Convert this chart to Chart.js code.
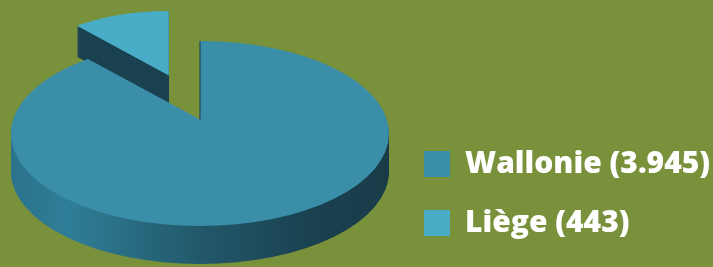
<!DOCTYPE html>
<html>
<head>
<meta charset="utf-8">
<script src="https://cdn.jsdelivr.net/npm/chart.js@4.4.1/dist/chart.umd.min.js"></script>
<style>
  html, body { margin: 0; padding: 0; background: #7a913c; }
  #wrap { width: 713px; height: 267px; position: relative; }
</style>
</head>
<body>
<div id="wrap"><canvas id="pieChart"></canvas></div>
<script>
const regionLabels = ['Wallonie (3.945)', 'Liège (443)'];
const regionCounts = [3945, 443];
const topColors = ['#3a8ea8', '#4aadc7'];
const explodeBy = [0, 100];

// fake 3D: tilt each arc into an ellipse and stack its side below it
const pie3d = {
  id: 'pie3d',
  beforeDatasetsDraw(chart, args, opts) {
    const ctx = chart.ctx;
    const arcs = chart.getDatasetMeta(0).data;
    const slices = arcs.map((arc, i) => {
      const mid = (arc.startAngle + arc.endAngle) / 2;
      const d = explodeBy[i];
      const s = d ? opts.farScale : 1;
      return {
        cx: arc.x + Math.cos(mid) * d,
        cy: arc.y + Math.sin(mid) * d * opts.tilt,
        rx: arc.outerRadius * s,
        ry: arc.outerRadius * s * opts.tilt,
        lift: opts.apexLift * s,
        depth: Math.round(opts.depth * s),
        a0: arc.startAngle,
        a1: arc.endAngle,
        exploded: d > 0
      };
    });

    // apex sits a bit above the ellipse centre (rough perspective)
    const wedge = (sl, dy) => {
      ctx.beginPath();
      ctx.moveTo(sl.cx, sl.cy - sl.lift + dy);
      ctx.ellipse(sl.cx, sl.cy + dy, sl.rx, sl.ry, 0, sl.a0, sl.a1);
      ctx.closePath();
    };

    ctx.save();
    slices.forEach(sl => {
      let fill;
      if (sl.exploded) {
        fill = '#1b4251';
      } else {
        fill = ctx.createLinearGradient(sl.cx - sl.rx, 0, sl.cx + sl.rx, 0);
        fill.addColorStop(0, '#2b738c');
        fill.addColorStop(0.15, '#2f7e97');
        fill.addColorStop(0.5, '#22586a');
        fill.addColorStop(0.8, '#1a4150');
        fill.addColorStop(1, '#193b48');
      }
      ctx.fillStyle = fill;
      for (let k = sl.depth; k >= 1; k--) {
        wedge(sl, k);
        ctx.fill();
      }
    });
    slices.forEach((sl, i) => {
      ctx.fillStyle = topColors[i];
      wedge(sl, 0);
      ctx.fill();
      if (!sl.exploded) {
        // thin edge of the cut face
        ctx.strokeStyle = '#1d4857';
        ctx.lineWidth = 1.2;
        ctx.beginPath();
        ctx.moveTo(sl.cx, sl.cy - sl.lift);
        ctx.lineTo(sl.cx + Math.cos(sl.a0) * sl.rx, sl.cy + Math.sin(sl.a0) * sl.ry);
        ctx.stroke();
      }
    });
    ctx.restore();
    return false;
  }
};

new Chart(document.getElementById('pieChart'), {
  type: 'pie',
  data: {
    labels: regionLabels,
    datasets: [{
      data: regionCounts,
      backgroundColor: topColors,
      borderWidth: 0,
      radius: 189
    }]
  },
  options: {
    responsive: true,
    maintainAspectRatio: false,
    animation: false,
    layout: { padding: { left: 5 } },
    plugins: {
      legend: {
        position: 'right',
        align: 'end',
        maxWidth: 318,
        labels: {
          color: '#ffffff',
          boxWidth: 26,
          boxHeight: 26,
          padding: 29,
          font: { family: 'Open Sans', size: 30, weight: 800 }
        }
      },
      tooltip: { enabled: false },
      pie3d: { tilt: 0.49, depth: 38, farScale: 0.82, apexLift: 14 }
    }
  },
  plugins: [pie3d]
});
</script>
</body>
</html>
